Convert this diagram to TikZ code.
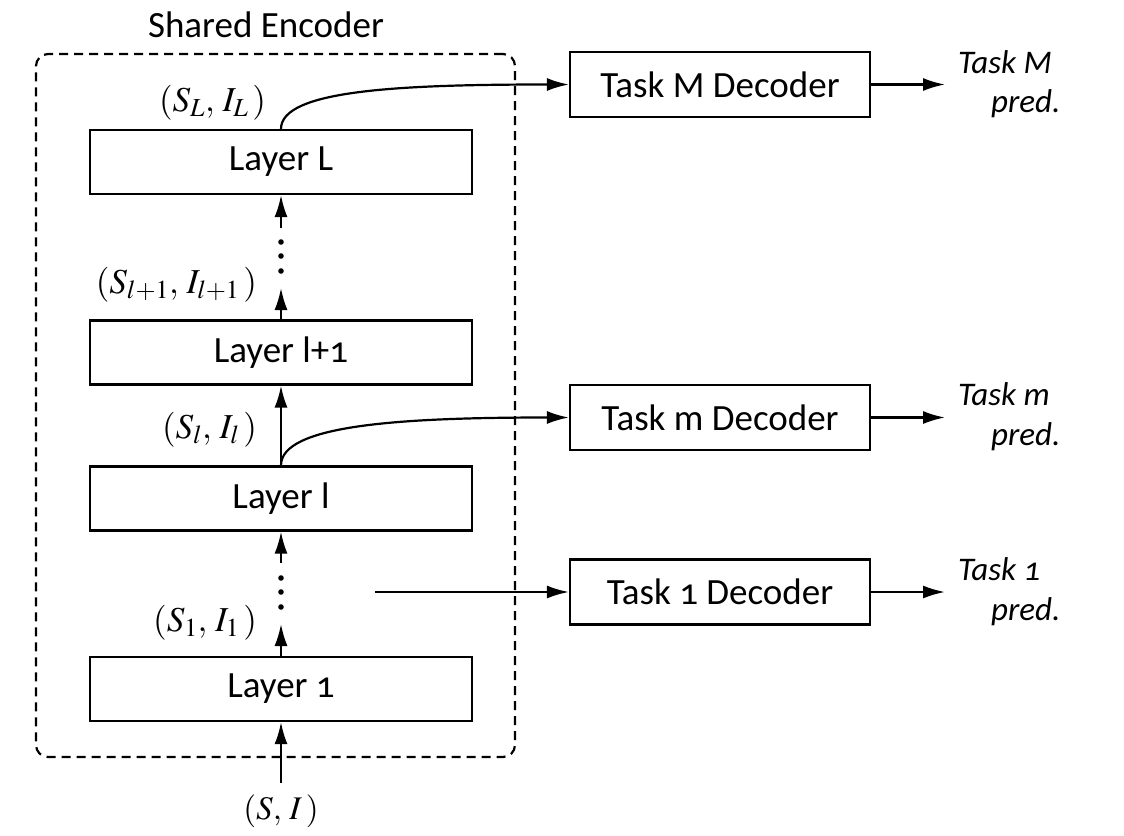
\documentclass[tikz,border=0pt]{standalone}
\usepackage{mathptmx}
\usepackage[no-math]{fontspec}
\setmainfont{Carlito}[Numbers=OldStyle]
\usetikzlibrary{arrows.meta}
\begin{document}
\begin{tikzpicture}[x=1pt,y=-1pt,line width=2.2pt,
  txt/.style={font=\fontsize{37}{42}\selectfont, inner sep=0},
  layerbox/.style={draw, txt, minimum width=382pt, minimum height=64pt},
  decbox/.style={draw, txt, minimum width=300pt, minimum height=65pt},
  mlbl/.style={font=\fontsize{35}{40}\selectfont, inner sep=0, anchor=base east},
  predlbl/.style={font=\fontsize{33}{39}\selectfont\itshape, inner sep=0, anchor=base west},
  arr/.style={-{Latex[length=22pt,width=13pt]}},
  dotc/.style={fill=black}]
\useasboundingbox (0,0) rectangle (1124,835);

\node[txt, anchor=base] (title) at (266,37) {Shared Encoder};
\node[draw, dashed, dash pattern=on 9pt off 6pt, rounded corners=12pt,
      minimum width=479pt, minimum height=703pt, inner sep=0] (enc) at (275.5,405.5) {};

\node[layerbox] (L)  at (281,162)   {Layer L};
\node[layerbox] (lp) at (281,352.5) {Layer l+1};
\node[layerbox] (l)  at (281,498.5) {Layer l};
\node[layerbox] (one) at (281,689)  {Layer 1};

\node[decbox] (dM) at (720,84.5)  {Task M Decoder};
\node[decbox] (dm) at (720,417.5) {Task m Decoder};
\node[decbox] (d1) at (720,592)   {Task 1 Decoder};

% math labels
\node[mlbl] (sL)  at (267,111) {$(S_L,\, I_L\,)$};
\node[mlbl] (slp) at (258,293) {$(S_{l+1},\, I_{l+1}\,)$};
\node[mlbl] (sl)  at (258,438) {$(S_l,\, I_l\,)$};
\node[mlbl] (s1)  at (258,631) {$(S_1,\, I_1\,)$};
\node[font=\fontsize{33}{38}\selectfont, inner sep=0, anchor=base] (in) at (281,819) {$(S,\, I\,)$};

% vertical flow
\coordinate (a1) at (281,624);
\coordinate (a2) at (281,563);
\coordinate (b1) at (281,288);
\coordinate (b2) at (281,228);
\coordinate (inTop) at (281,783);
\draw[arr] (inTop) -- (one.south);
\draw[arr] (one.north) -- (a1);
\fill[dotc] (281,578) circle (2.8pt) (281,592) circle (2.8pt) (281,607) circle (2.8pt);
\draw[arr] (a2) -- (l.south);
\draw[arr] (l.north) -- (lp.south);
\draw[arr] (lp.north) -- (b1);
\fill[dotc] (281,242) circle (2.8pt) (281,256) circle (2.8pt) (281,271) circle (2.8pt);
\draw[arr] (b2) -- (L.south);

% to decoders
\draw[arr] (L.north) .. controls (281,90) and (400,84.5) .. (dM.west);
\draw[arr] (l.north) .. controls (281,425) and (400,417.5) .. (dm.west);
\coordinate (t1) at (375,592);
\draw[arr] (t1) -- (d1.west);

% outputs
\coordinate (oM) at (945,84.5);
\coordinate (om) at (945,417.5);
\coordinate (o1) at (945,592);
\draw[arr] (dM.east) -- (oM);
\draw[arr] (dm.east) -- (om);
\draw[arr] (d1.east) -- (o1);

\node[predlbl] (pMa) at (957,73)  {Task M};
\node[predlbl] (pMb) at (990,112) {pred.};
\node[predlbl] (pma) at (957,405) {Task m};
\node[predlbl] (pmb) at (990,445) {pred.};
\node[predlbl] (p1a) at (957,580) {Task 1};
\node[predlbl] (p1b) at (990,620) {pred.};
\end{tikzpicture}
\end{document}
